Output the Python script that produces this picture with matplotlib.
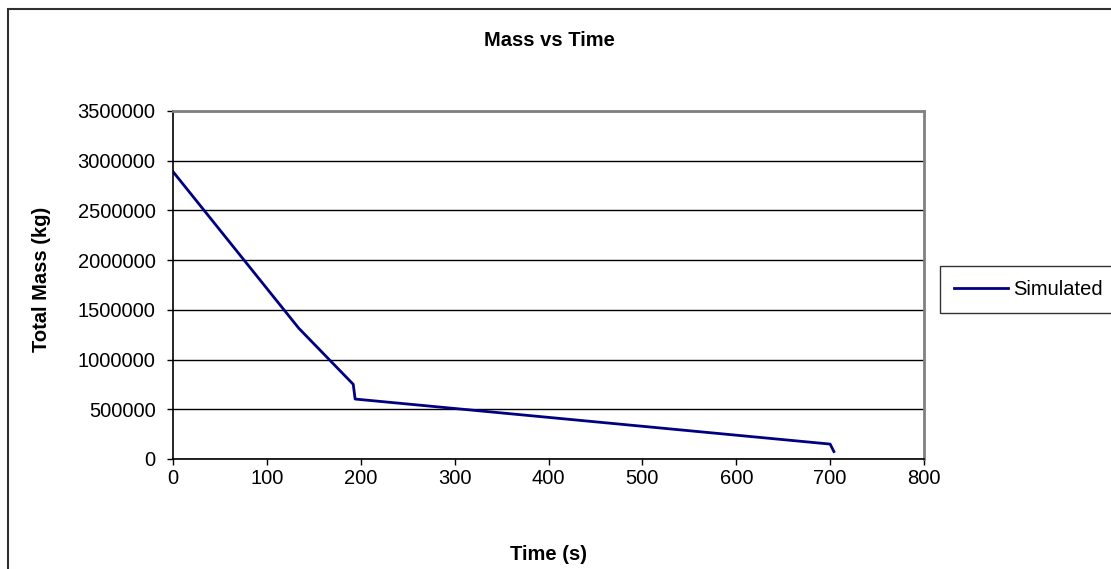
import matplotlib.pyplot as plt
from matplotlib.patches import Rectangle
from matplotlib.ticker import FuncFormatter

plt.rcParams['font.family'] = ['Liberation Sans', 'DejaVu Sans']

time_s = [0, 134, 192, 194, 700, 704]
mass_kg = [2890000, 1315000, 751000, 603000, 150000, 75000]

W, H = 1111, 569
FS = 14.5
fig = plt.figure(figsize=(W / 100, H / 100), dpi=100)
ax = fig.add_axes([173 / W, 1 - 459 / H, (924 - 173) / W, (459 - 111) / H])

ax.plot(time_s, mass_kg, color='#000080', lw=2, label='Simulated')

ax.set_xlim(0, 800)
ax.set_ylim(0, 3500000)
ax.set_xticks(range(0, 801, 100))
ax.set_yticks(range(0, 3500001, 500000))
ax.yaxis.set_major_formatter(FuncFormatter(lambda v, p: f'{v:.0f}'))
ax.tick_params(labelsize=FS, direction='out', length=4.5, width=1, colors='black')
ax.tick_params(axis='y', pad=8)
ax.tick_params(axis='x', pad=3)
ax.yaxis.grid(True, color='black', lw=1)
ax.set_axisbelow(True)
for side in ['left', 'bottom']:
    ax.spines[side].set_color('black')
    ax.spines[side].set_linewidth(1.2)
for side in ['top', 'right']:
    ax.spines[side].set_color('#808080')
    ax.spines[side].set_linewidth(2)

fig.text(549 / W, 1 - 40 / H, 'Mass vs Time', ha='center', va='center',
         fontsize=FS, fontweight='bold')
fig.text(549 / W, 1 - 555 / H, 'Time (s)', ha='center', va='center',
         fontsize=FS, fontweight='bold')
fig.text(42 / W, 1 - 279 / H, 'Total Mass (kg)', ha='center', va='center',
         rotation=90, fontsize=FS, fontweight='bold')

leg = ax.legend(loc='upper left', mode='expand',
                bbox_to_anchor=(940 / W, 1 - 320 / H, 220 / W, 54 / H),
                bbox_transform=fig.transFigure, borderaxespad=0,
                fontsize=FS, frameon=True, fancybox=False,
                handlelength=2.7, handletextpad=0.25, borderpad=0.7)
leg.get_frame().set_edgecolor('black')
leg.get_frame().set_linewidth(1)

# outer chart border
fig.patches.append(Rectangle((8 / W, -0.1), 1.2, 1 - 9 / H + 0.1,
                             transform=fig.transFigure, fill=False,
                             edgecolor='#303030', lw=1.5))

fig.savefig('out.png', dpi=100)
